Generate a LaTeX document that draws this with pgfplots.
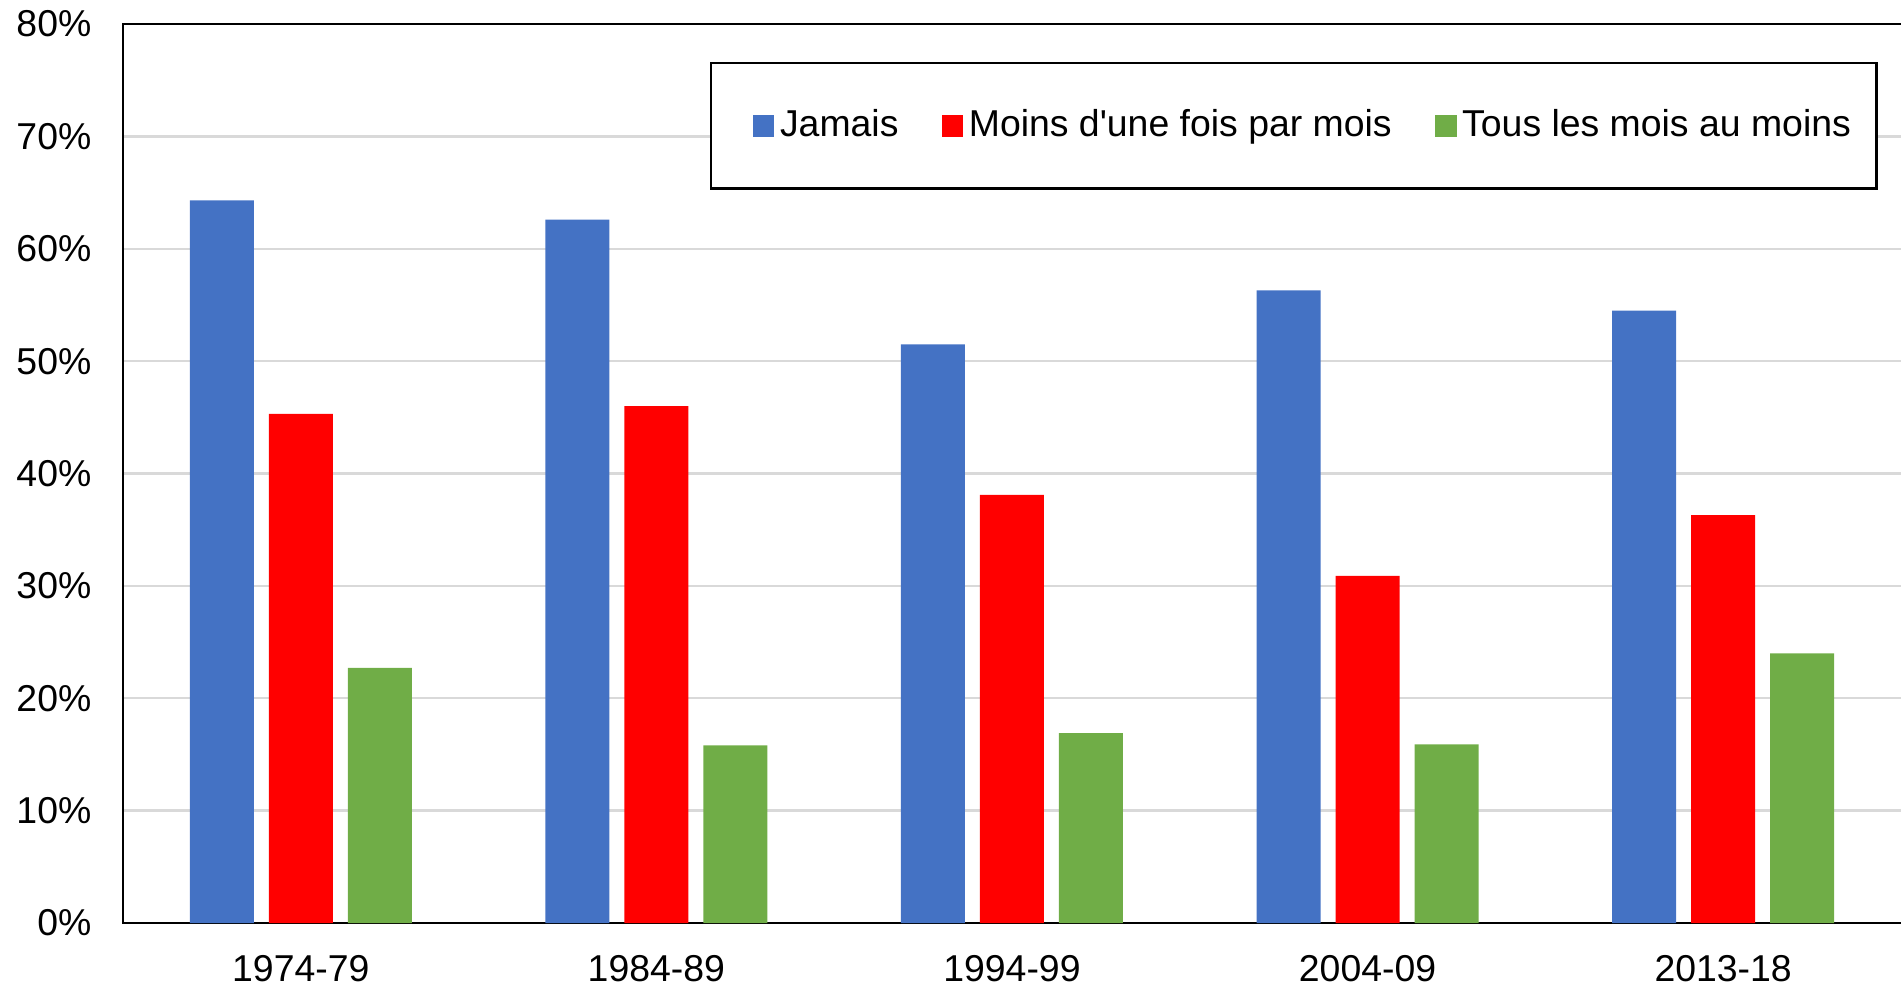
\documentclass[border=0pt]{standalone}
\usepackage{fontspec}
\setmainfont{Liberation Sans}
\usepackage{pgfplots}
\pgfplotsset{compat=1.18}
\definecolor{jblue}{HTML}{4472C4}
\definecolor{jred}{HTML}{FF0000}
\definecolor{jgreen}{HTML}{70AD47}
\definecolor{gridgray}{HTML}{D9D9D9}
\newcommand{\chartfont}{\fontsize{9.35pt}{11pt}\selectfont}

\begin{document}
\chartfont
\begin{tikzpicture}
  \begin{axis}[
      at={(0,0)}, anchor=south west,
      scale only axis, width=446.25pt, height=224.75pt,
      ybar=3.75pt, bar width=16pt,
      xmin=-0.5, xmax=4.52, ymin=0, ymax=80,
      xtick={0,1,2,3,4},
      xticklabels={1974-79,1984-89,1994-99,2004-09,2013-18},
      ytick={0,10,20,30,40,50,60,70,80},
      yticklabels={0\%,10\%,20\%,30\%,40\%,50\%,60\%,70\%,80\%},
      major tick length=0pt,
      ymajorgrids, grid style={gridgray, line width=0.6pt},
      axis line style={black, line width=0.6pt},
      xticklabel style={font=\chartfont, yshift=-4.8pt},
      yticklabel style={font=\chartfont, xshift=-4.6pt},
      legend columns=-1,
      legend image code/.code={\fill[#1] (0pt,-2.7pt) rectangle (5.4pt,2.7pt);},
      legend style={at={(0.983,0.958)}, anchor=north east,
        draw=black, line width=0.6pt, fill=white,
        inner xsep=5pt, inner ysep=9.6pt,
        font=\chartfont,
        nodes={inner xsep=1.4pt},
        /tikz/every even column/.append style={column sep=9.4pt}},
    ]
    \addplot[fill=jblue, draw=none,
      legend image code/.code={\path (-5.5pt,0); \fill[##1] (0pt,-2.7pt) rectangle (5.4pt,2.7pt);}]
      coordinates {
      (0,64.3) (1,62.6) (2,51.5) (3,56.3) (4,54.5)
    };
    \addplot[fill=jred, draw=none] coordinates {
      (0,45.3) (1,46.0) (2,38.1) (3,30.9) (4,36.3)
    };
    \addplot[fill=jgreen, draw=none] coordinates {
      (0,22.7) (1,15.8) (2,16.9) (3,15.9) (4,24.0)
    };
    \legend{Jamais, Moins d\textquotesingle une fois par mois, Tous les mois au moins}
  \end{axis}
  \pgfresetboundingbox
  \path[use as bounding box] (-30.75pt,-15.25pt) rectangle (444.5pt,230.75pt);
\end{tikzpicture}
\end{document}
